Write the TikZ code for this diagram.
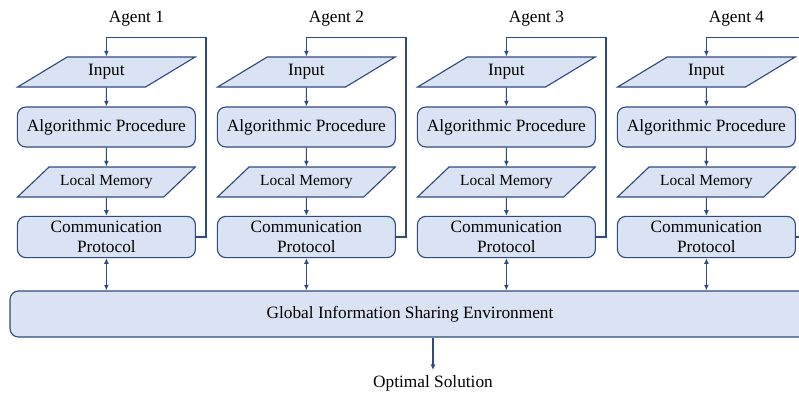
\documentclass[tikz,border=0pt]{standalone}
\usepackage{fontspec}
\setmainfont{Liberation Serif}
\usetikzlibrary{shapes.geometric,arrows.meta}

\definecolor{boxfill}{HTML}{DAE3F3}
\definecolor{boxline}{HTML}{2F4B7C}

\tikzset{
    proc/.style={draw=boxline, fill=boxfill, rounded corners=6pt,
        minimum width=4.45cm, minimum height=1.0cm, align=center},
    data/.style={draw=boxline, fill=boxfill, trapezium,
        trapezium left angle=40, trapezium right angle=140,
        trapezium stretches=true, minimum width=4.45cm, minimum height=0.75cm},
}

\begin{document}
\begin{tikzpicture}[font=\fontsize{12.3}{14.4}\selectfont, line width=0.8pt,
    >={Latex[length=4pt,width=3.5pt]}]
    \useasboundingbox (0,0) rectangle (19.975,9.8);
    \clip (0,0) rectangle (19.975,9.8);

    % gemeinsamer Speicher unten
    \node[proc, minimum width=20cm, minimum height=1.15cm]
    (glob) at (10.25,1.95) {Global Information Sharing Environment};

    \foreach \i/\x in {1/2.66, 2/7.66, 3/12.66, 4/17.66} {
        \node (ag\i) at (\x+0.75,9.325) {Agent \i};
        \node[data] (in\i) at (\x,8.0) {Input};
        \node[proc] (alg\i) at (\x,6.625) {Algorithmic Procedure};
        \node[data, font=\fontsize{11}{13}\selectfont]
        (mem\i) at (\x,5.25) {Local Memory};
        \node[proc] (com\i) at (\x,3.875) {Communication\\Protocol};
        \draw[->, boxline] (in\i) -- (alg\i);
        \draw[->, boxline] (alg\i) -- (mem\i);
        \draw[->, boxline] (mem\i) -- (com\i);
        \draw[<->, boxline] (com\i.south) -- (com\i.south |- glob.north);
        % Rueckfuehrung zum Eingang
        \draw[->, boxline] (com\i.east) -| (\x+2.49,8.8625) -| (in\i.north);
    }

    \node (opt) at (10.825,0.22) {Optimal Solution};
    \draw[->, boxline] (glob.south -| opt.north) -- (opt.north);
\end{tikzpicture}
\end{document}
